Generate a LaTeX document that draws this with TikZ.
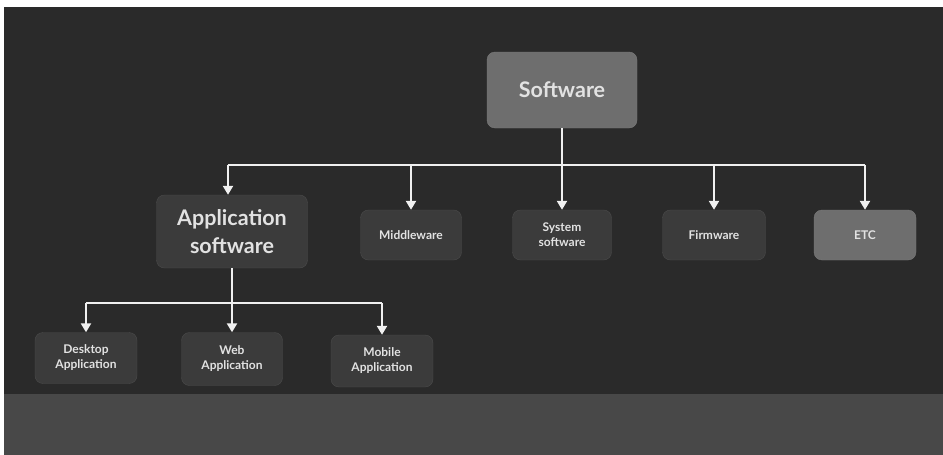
\documentclass[tikz,border=0pt]{standalone}
\usepackage{fontspec}
\setmainfont{Lato}
\usetikzlibrary{arrows.meta}
\definecolor{bgdark}{HTML}{2A2A2A}
\definecolor{band}{HTML}{484848}
\definecolor{boxdark}{HTML}{3B3B3B}
\definecolor{boxlight}{HTML}{6E6E6E}
\definecolor{txt}{HTML}{E2E2E2}
\definecolor{wire}{HTML}{F0F0F0}
\tikzset{
  box/.style={rounded corners=8pt, draw=#1!92!white, line width=0.4pt, fill=#1, text=txt, align=center, inner sep=0pt},
  bigtxt/.style={font=\fontsize{21.5}{28}\selectfont\bfseries},
  smalltxt/.style={font=\fontsize{12}{15}\selectfont\bfseries},
  wireline/.style={draw=wire, line width=2.5pt},
  tip/.style={wireline, -{Triangle[width=10pt,length=9pt]}}
}
\begin{document}
\begin{tikzpicture}[x=1pt,y=-1pt]
\useasboundingbox (0,0) rectangle (943,455);
\fill[white] (0,0) rectangle (943,455);
\fill[bgdark] (4,7) rectangle (943,394);
\fill[band] (4,394) rectangle (943,455);
% top level
\node[box=boxlight, bigtxt, minimum width=150pt, minimum height=76pt] (sw) at (562,90) {Software};
% second level
\node[box=boxdark, bigtxt, minimum width=151pt, minimum height=73pt] (app) at (232,231.5) {Application\\software};
\node[box=boxdark, smalltxt, minimum width=101pt, minimum height=50pt] (mid) at (411,235) {Middleware};
\node[box=boxdark, smalltxt, minimum width=99pt, minimum height=50pt] (sys) at (562,235) {System\\software};
\node[box=boxdark, smalltxt, minimum width=103pt, minimum height=50pt] (firm) at (714,235) {Firmware};
\node[box=boxlight, smalltxt, minimum width=102pt, minimum height=50pt] (etc) at (865,235) {ETC};
% third level
\node[box=boxdark, smalltxt, minimum width=102pt, minimum height=51pt] (desk) at (86,358) {Desktop\\Application};
\node[box=boxdark, smalltxt, minimum width=101pt, minimum height=53pt] (web) at (232,359) {Web\\Application};
\node[box=boxdark, smalltxt, minimum width=102pt, minimum height=52pt] (mob) at (382,361) {Mobile\\Application};
% bus 1
\coordinate (b1) at (228,165);
\coordinate (b5) at (865,165);
\draw[wireline] (b1) -- (b5);
\draw[tip] (sw.south) -- (sys.north);
\draw[tip] (b1) -- (b1 |- app.north);
\draw[tip] (mid.north |- b1) -- (mid.north);
\draw[tip] (firm.north |- b1) -- (firm.north);
\draw[tip] (b5) -- (etc.north);
% bus 2
\coordinate (c1) at (86,303);
\coordinate (c3) at (382,303);
\draw[wireline] (c1) -- (c3);
\draw[tip] (app.south) -- (web.north);
\draw[tip] (c1) -- (desk.north);
\draw[tip] (c3) -- (mob.north);
\end{tikzpicture}
\end{document}
